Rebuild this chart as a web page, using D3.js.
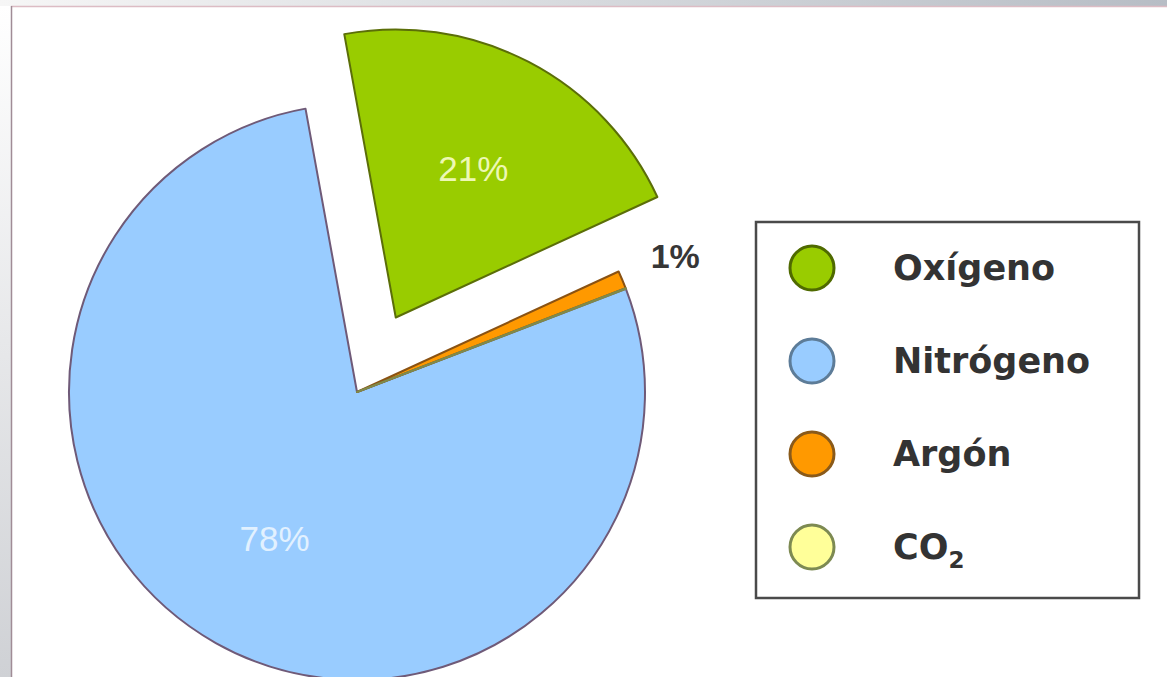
<!DOCTYPE html>
<html>
<head>
<meta charset="utf-8">
<script src="https://cdn.jsdelivr.net/npm/d3@7"></script>
<style>
  html, body { margin: 0; padding: 0; background: #fff; }
  svg { display: block; }
</style>
</head>
<body>
<div id="chart"></div>
<script>
// composition of air (%)
const gases = ["Oxígeno", "Nitrógeno", "Argón", "CO2"];      // legend order
const percents = [21, 78, 1, 0.04];
const pieOrder = ["Oxígeno", "Argón", "CO2", "Nitrógeno"];   // clockwise from the top
const sliceLabels = ["21%", "78%", "1%", ""];
const fills = ["#99cc00", "#99ccff", "#ff9900", "#ffff99"];
const edges = ["#5b6e08", "#6f5a78", "#8a5212", "#7f8a4a"];
const legendEdges = ["#4f6a00", "#5d7c98", "#8a5a1a", "#7d8a52"];

const W = 1167, H = 677;
const svg = d3.select("#chart").append("svg")
  .attr("width", W).attr("height", H);

// slide frame: grey strips on top and left
const defs = svg.append("defs");
const gTop = defs.append("linearGradient").attr("id", "gtop");
gTop.append("stop").attr("offset", "0%").attr("stop-color", "#f6f6f6");
gTop.append("stop").attr("offset", "100%").attr("stop-color", "#b7bdc5");
const gLeft = defs.append("linearGradient").attr("id", "gleft")
  .attr("x1", 0).attr("y1", 0).attr("x2", 0).attr("y2", 1);
gLeft.append("stop").attr("offset", "0%").attr("stop-color", "#ffffff");
gLeft.append("stop").attr("offset", "100%").attr("stop-color", "#cfd1d5");

svg.append("rect").attr("x", 0).attr("y", 0).attr("width", W).attr("height", 6)
  .attr("fill", "url(#gtop)");
svg.append("rect").attr("x", 0).attr("y", 6).attr("width", 11).attr("height", H - 6)
  .attr("fill", "url(#gleft)");
svg.append("line").attr("x1", 11).attr("x2", W).attr("y1", 6.5).attr("y2", 6.5)
  .attr("stroke", "#dcbcc4").attr("stroke-width", 1.5);
svg.append("line").attr("x1", 11.5).attr("x2", 11.5).attr("y1", 6).attr("y2", H)
  .attr("stroke", "#a08c96").attr("stroke-width", 1.5);

// pie
const cx = 357, cy = 392, r = 288;
const rad = d => d * Math.PI / 180;
const start = rad(-10.3);

const data = gases.map((g, i) => ({
  name: g, value: percents[i], label: sliceLabels[i], fill: fills[i], edge: edges[i]
}));

const pie = d3.pie()
  .value(d => d.value)
  .sort((a, b) => pieOrder.indexOf(a.name) - pieOrder.indexOf(b.name))
  .startAngle(start)
  .endAngle(start + 2 * Math.PI);

const arc = d3.arc().innerRadius(0).outerRadius(r);
const labelArc = d3.arc().innerRadius(168).outerRadius(168);
const outerLabelArc = d3.arc().innerRadius(326).outerRadius(326);

const explode = { "Oxígeno": 84 };

const arcs = pie(data);
const g = svg.append("g").attr("transform", `translate(${cx},${cy})`);

const slices = g.selectAll("g.slice")
  .data(arcs)
  .enter()
  .append("g")
  .attr("class", "slice")
  .attr("transform", d => {
    const off = explode[d.data.name] || 0;
    const mid = (d.startAngle + d.endAngle) / 2;
    return `translate(${off * Math.sin(mid)},${-off * Math.cos(mid)})`;
  });

slices.append("path")
  .attr("d", arc)
  .attr("fill", d => d.data.fill)
  .attr("stroke", d => d.data.edge)
  .attr("stroke-width", 2)
  .attr("stroke-linejoin", "round");

// labels inside the big slices
slices.filter(d => d.data.value > 5)
  .append("text")
  .attr("transform", d => `translate(${labelArc.centroid(d)})`)
  .attr("text-anchor", "middle")
  .attr("dominant-baseline", "central")
  .attr("font-family", "'Liberation Sans', Arial, sans-serif")
  .attr("font-size", 35)
  .attr("fill", d => d.data.name === "Oxígeno" ? "#edf8b4" : "#e2f1ff")
  .text(d => d.data.label);

// the 1% label sits outside the pie
slices.filter(d => d.data.name === "Argón")
  .append("text")
  .attr("transform", d => {
    const [x, y] = outerLabelArc.centroid(d);
    return `translate(${x + 18},${y - 9})`;
  })
  .attr("text-anchor", "middle")
  .attr("dominant-baseline", "central")
  .attr("font-family", "'Liberation Sans', Arial, sans-serif")
  .attr("font-weight", "bold")
  .attr("font-size", 34)
  .attr("fill", "#363636")
  .text(d => d.data.label);

// legend
const lx = 756, ly = 222, lw = 383, lh = 376;
const legend = svg.append("g");
legend.append("rect")
  .attr("x", lx).attr("y", ly).attr("width", lw).attr("height", lh)
  .attr("fill", "#fff")
  .attr("stroke", "#4a4a4a")
  .attr("stroke-width", 2.5);

const items = legend.selectAll("g.item")
  .data(gases)
  .enter()
  .append("g")
  .attr("class", "item")
  .attr("transform", (d, i) => `translate(812,${268 + i * 93})`);

items.append("circle")
  .attr("r", 22)
  .attr("fill", (d, i) => fills[i])
  .attr("stroke", (d, i) => legendEdges[i])
  .attr("stroke-width", 3);

const txt = items.append("text")
  .attr("x", 81)
  .attr("y", 12)
  .attr("font-family", "'DejaVu Sans', sans-serif")
  .attr("font-weight", "bold")
  .attr("font-size", 35)
  .attr("fill", "#333");

txt.filter(d => d !== "CO2").text(d => d);
const co2 = txt.filter(d => d === "CO2");
co2.append("tspan").text("CO");
co2.append("tspan").attr("dy", 9).attr("font-size", 23).text("2");
</script>
</body>
</html>
